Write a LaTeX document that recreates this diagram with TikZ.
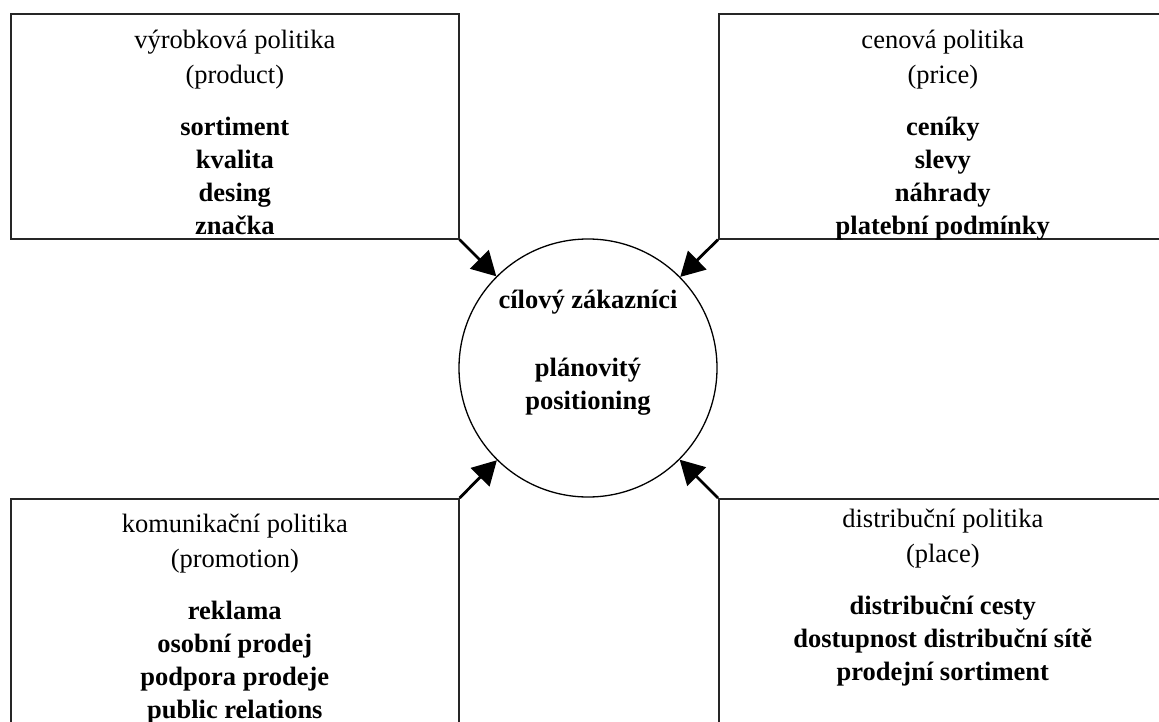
\documentclass[tikz,border=0pt]{standalone}
\usepackage{fontspec}
\setmainfont{Liberation Serif}
\usetikzlibrary{positioning, arrows.meta}

\tikzstyle{policybox} = [rectangle, draw=black!85, line width=1.6pt, minimum width=448pt, minimum height=225pt, anchor=north west, inner sep=0pt]
\tikzstyle{arrow} = [line width=2.8pt, -{Triangle[length=24pt,width=26pt]}]

\begin{document}
\begin{tikzpicture}[x=1pt, y=-1pt,
roundnode/.style={circle, draw=black, line width=1.3pt, minimum size=258pt, inner sep=0pt},
headtext/.style={align=center, inner sep=0pt, font=\fontsize{26.5}{35}\selectfont},
itemtext/.style={align=center, inner sep=0pt, font=\fontsize{26.5}{33}\selectfont\bfseries},
]
\path[use as bounding box, fill=white] (0,0) rectangle (1159,722);
\clip (0,0) rectangle (1159,722);

%Nodes
\node[policybox] (product)   at (10,13)  {};
\node[policybox] (price)     at (718,13) {};
\node[policybox] (promotion) at (10,498) {};
\node[policybox] (place)     at (718,498) {};
\node[roundnode] (customer)  at (588,368) {};

%Texts
\node[headtext, below=17pt of product.north]   (producthead)   {výrobková politika\\(product)};
\node[itemtext, below=27pt of producthead]     (productitems)  {sortiment\\kvalita\\desing\\značka};
\node[headtext, below=17pt of price.north]     (pricehead)     {cenová politika\\(price)};
\node[itemtext, below=27pt of pricehead]       (priceitems)    {ceníky\\slevy\\náhrady\\platební podmínky};
\node[headtext, below=16pt of promotion.north] (promotionhead) {komunikační politika\\(promotion)};
\node[itemtext, below=27pt of promotionhead]   (promotionitems){reklama\\osobní prodej\\podpora prodeje\\public relations};
\node[headtext, below=11pt of place.north]     (placehead)     {distribuční politika\\(place)};
\node[itemtext, below=27pt of placehead]       (placeitems)    {distribuční cesty\\dostupnost distribuční sítě\\prodejní sortiment};
\node[itemtext, below=52pt of customer.north]  (customertext)  {cílový zákazníci\\[35pt]plánovitý\\positioning};

%Lines
\draw[arrow] (product.south east)  -- (customer);
\draw[arrow] (price.south west)    -- (customer);
\draw[arrow] (promotion.north east) -- (customer);
\draw[arrow] (place.north west)    -- (customer);

\end{tikzpicture}
\end{document}
